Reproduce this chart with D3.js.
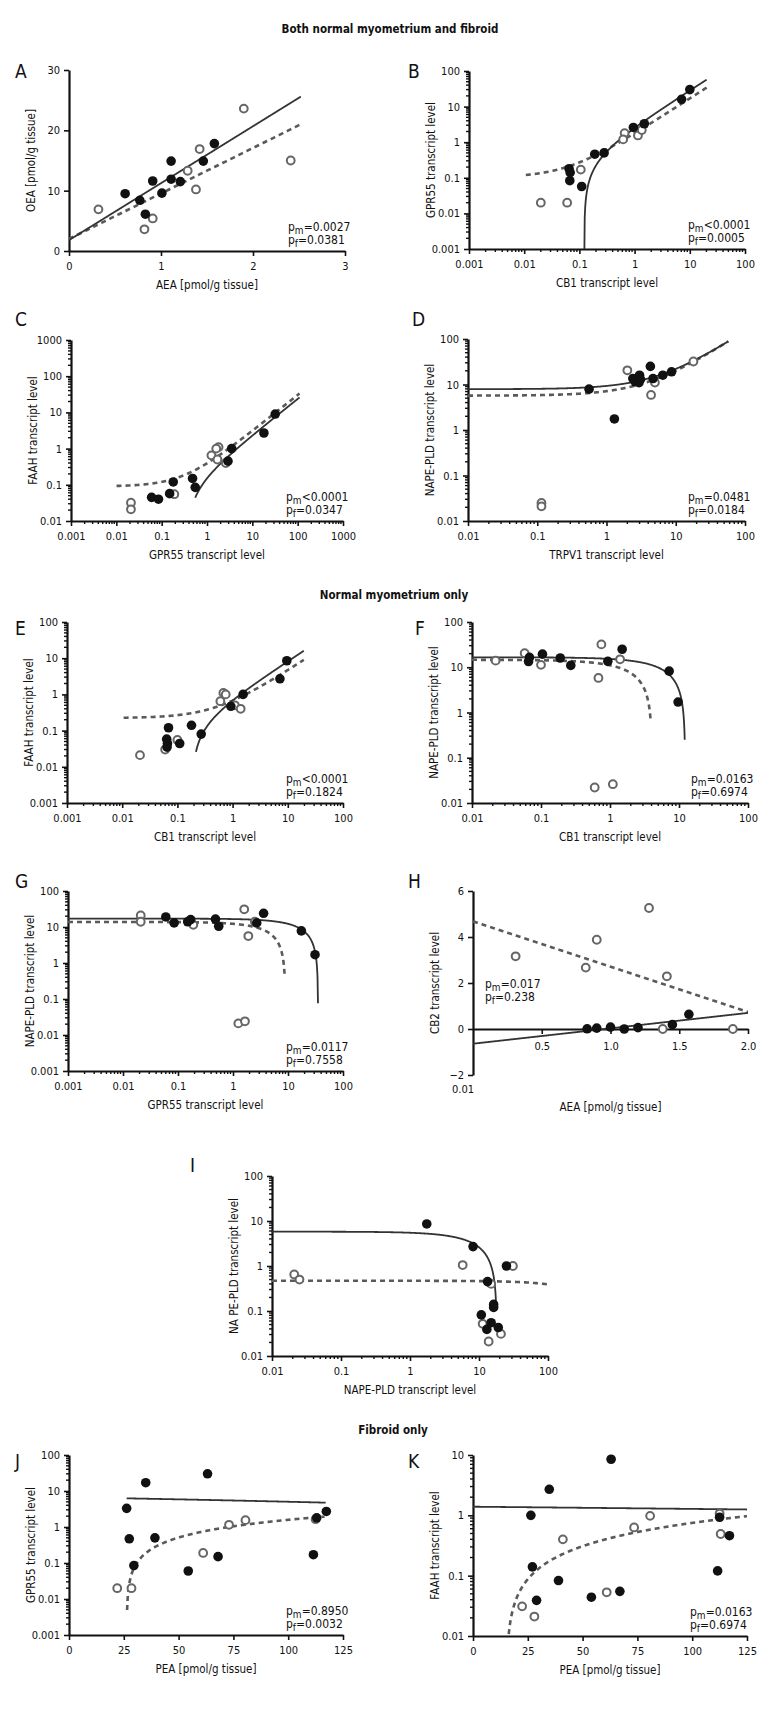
<!DOCTYPE html>
<html>
<head>
<meta charset="utf-8">
<script src="https://cdn.jsdelivr.net/npm/d3@7"></script>
<style>
    body { margin: 0; background: #fff; }
    svg text { font-family: "Liberation Sans Narrow", "DejaVu Sans Condensed", "Arial Narrow", sans-serif; fill: #111; }
    .axis path, .axis line { stroke: #111; }
</style>
</head>
<body>
<div id="chart"></div>
<script>
// ---- tick values / labels ----
var decadeValues = [0.001, 0.01, 0.1, 1, 10, 100, 1000];
var decadeLabels = ['0.001', '0.01', '0.1', '1', '10', '100', '1000'];
var aXTicks = [0, 1, 2, 3];
var aYTicks = [0, 10, 20, 30];
var hXTicks = [0.5, 1.0, 1.5, 2.0];
var hXLabels = ['0.5', '1.0', '1.5', '2.0'];
var hYTicks = [-2, 0, 2, 4, 6];
var hYLabels = ['\u22122', '0', '2', '4', '6'];
var peaTicks = [0, 25, 50, 75, 100, 125];

// ---- points [x, y]: filled = myometrium, open = fibroid ----
var aFilled = [[0.61, 9.5], [0.77, 8.4], [0.83, 6.1], [0.91, 11.6], [1.01, 9.6], [1.11, 14.9], [1.11, 11.9], [1.21, 11.5], [1.46, 14.9], [1.58, 17.8]];
var aOpen = [[0.32, 6.9], [0.82, 3.6], [0.91, 5.4], [1.29, 13.3], [1.38, 10.2], [1.42, 16.9], [1.90, 23.6], [2.41, 15.0]];

var bFilled = [[0.065, 0.18], [0.068, 0.14], [0.067, 0.083], [0.11, 0.057], [0.19, 0.46], [0.28, 0.5], [0.95, 2.6], [1.5, 3.3], [7.1, 16], [10, 30]];
var bOpen = [[0.02, 0.02], [0.06, 0.02], [0.106, 0.17], [0.66, 1.8], [0.62, 1.2], [1.15, 1.55], [1.35, 2.2]];

var cFilled = [[0.06, 0.045], [0.085, 0.04], [0.15, 0.057], [0.18, 0.12], [0.48, 0.15], [0.55, 0.085], [2.9, 0.45], [3.5, 1.0], [18, 2.7], [32, 9]];
var cOpen = [[0.021, 0.032], [0.021, 0.021], [0.19, 0.055], [1.25, 0.65], [1.7, 0.5], [1.8, 1.1], [1.6, 1.0], [2.6, 0.4]];

var dFilled = [[0.56, 7.9], [1.3, 1.75], [2.4, 13.5], [2.6, 11.5], [2.95, 11], [3.0, 16], [3.1, 13], [4.3, 25], [4.7, 13.5], [6.5, 16], [8.7, 19]];
var dOpen = [[0.115, 0.025], [0.115, 0.021], [2.0, 20.5], [2.6, 12], [4.4, 5.9], [5.0, 11], [18, 32]];

var eFilled = [[0.069, 0.12], [0.064, 0.058], [0.066, 0.044], [0.065, 0.035], [0.11, 0.044], [0.18, 0.14], [0.27, 0.08], [0.93, 0.47], [1.55, 1.0], [7.2, 2.7], [9.6, 8.5]];
var eOpen = [[0.021, 0.021], [0.06, 0.03], [0.1, 0.055], [0.68, 1.1], [0.75, 1.0], [0.6, 0.65], [1.1, 0.5], [1.4, 0.4]];

var fFilled = [[0.068, 16.5], [0.066, 13.4], [0.105, 19.5], [0.19, 16], [0.27, 11], [0.93, 13.5], [1.5, 25], [7.2, 8.2], [9.7, 1.7]];
var fOpen = [[0.022, 14], [0.058, 20.5], [0.1, 11.3], [0.75, 32], [0.68, 5.8], [1.4, 15], [0.6, 0.022], [1.1, 0.026]];

var gFilled = [[0.06, 19], [0.085, 13], [0.15, 14], [0.17, 16], [0.48, 16.5], [0.55, 10.5], [2.7, 13], [3.6, 24], [17.5, 7.8], [31, 1.7]];
var gOpen = [[0.021, 21], [0.021, 14], [0.19, 11.5], [1.6, 31], [1.9, 5.6], [2.5, 14], [1.25, 0.021], [1.65, 0.024]];

var hFilled = [[0.83, 0.01], [0.9, 0.04], [1.0, 0.08], [1.1, 0], [1.2, 0.06], [1.45, 0.19], [1.57, 0.64]];
var hOpen = [[0.31, 3.16], [0.82, 2.67], [0.9, 3.88], [1.28, 5.26], [1.41, 2.29], [1.38, 0], [1.89, 0]];

var iFilled = [[1.75, 8.6], [8.2, 2.7], [13.3, 0.45], [16.3, 0.14], [16.3, 0.12], [10.8, 0.082], [13, 0.039], [15, 0.055], [19, 0.043], [25, 1.0]];
var iOpen = [[0.021, 0.65], [0.025, 0.5], [5.8, 1.05], [15, 0.4], [11.3, 0.052], [13.8, 0.021], [20.8, 0.031], [31, 1.0]];

var jFilled = [[26.3, 3.3], [27.5, 0.47], [29.6, 0.085], [35, 17], [39.2, 0.5], [54.4, 0.06], [63.2, 30], [68, 0.15], [111.5, 0.17], [113, 1.8], [117.4, 2.7]];
var jOpen = [[22, 0.02], [28.5, 0.02], [61.2, 0.19], [73, 1.15], [80.5, 1.55], [112.5, 1.65]];

var kFilled = [[26.4, 1.0], [27.1, 0.14], [29, 0.039], [34.8, 2.7], [39, 0.083], [54, 0.044], [63, 8.5], [67, 0.055], [111.6, 0.12], [112.5, 0.93], [117, 0.46]];
var kOpen = [[22.4, 0.031], [28, 0.021], [41, 0.4], [61, 0.053], [73.5, 0.63], [80.8, 0.98], [112.5, 1.07], [113, 0.49]];

// ---- linear regression fits: [intercept, slope, xStart, xEnd] ----
var aFitSolid = [1.8, 9.44, 0, 2.52],        aFitDashed = [2.0, 7.54, 0, 2.52];
var bFitSolid = [-0.348, 2.85, 0.1222, 20.2], bFitDashed = [0.102, 1.688, 0.0107, 20.2];
var cFitSolid = [-0.086, 0.2362, 0.55, 110],  cFitDashed = [0.090, 0.3028, 0.0101, 110];
var dFitSolid = [7.89, 1.41, 0.01, 57.4],     dFitDashed = [5.69, 1.45, 0.01, 57.4];
var eFitSolid = [-0.154, 0.8285, 0.217, 19.5], eFitDashed = [0.222, 0.450, 0.0106, 19.5];
var fFitSolid = [16.61, -1.352, 0.01, 12.1],  fFitDashed = [14.64, -3.6, 0.01, 3.87];
var gFitSolid = [17.1, -0.485, 0.001, 35.1],  gFitDashed = [13.8, -1.537, 0.001, 8.7];
var hFitSolid = [-0.64, 0.67, 0, 2],          hFitDashed = [4.68, -1.97, 0, 2];
var iFitSolid = [5.8, -0.32, 0.01, 17.8],     iFitDashed = [0.47, -0.0008, 0.01, 100];
var jFitSolid = [6.69, -0.0166, 26.3, 117.1], jFitDashed = [-0.564, 0.02147, 26.5, 116.6];
var kFitSolid = [1.39, -0.00112, 0, 125],     kFitDashed = [-0.133, 0.00882, 16.3, 125];

// ---- p values ----
var pmValues = { A: '=0.0027', B: '<0.0001', C: '<0.0001', D: '=0.0481', E: '<0.0001', F: '=0.0163', G: '=0.0117', H: '=0.017', J: '=0.8950', K: '=0.0163' };
var pfValues = { A: '=0.0381', B: '=0.0005', C: '=0.0347', D: '=0.0184', E: '=0.1824', F: '=0.6974', G: '=0.7558', H: '=0.238', J: '=0.0032', K: '=0.6974' };

var sectionTitles = [
    { text: 'Both normal myometrium and fibroid', x: 390, y: 33 },
    { text: 'Normal myometrium only', x: 394, y: 599 },
    { text: 'Fibroid only', x: 393, y: 1434 }
];

var panels = [
    { id: 'A', left: 69, top: 70, right: 345, bottom: 251, letter: [15, 78], xLog: false, yLog: false, xDomain: [0, 3], yDomain: [0, 30],
      xTicks: aXTicks, yTicks: aYTicks, xLabel: 'AEA [pmol/g tissue]', yLabel: 'OEA [pmol/g tissue]', filled: aFilled, open: aOpen, solid: aFitSolid, dashed: aFitDashed },
    { id: 'B', left: 469, top: 71, right: 745, bottom: 249, letter: [408, 78], xLog: true, yLog: true, xDomain: [0.001, 100], yDomain: [0.001, 100],
      xLabel: 'CB1 transcript level', yLabel: 'GPR55 transcript level', filled: bFilled, open: bOpen, solid: bFitSolid, dashed: bFitDashed },
    { id: 'C', left: 71, top: 340, right: 343, bottom: 521, letter: [15, 326], xLog: true, yLog: true, xDomain: [0.001, 1000], yDomain: [0.01, 1000],
      xLabel: 'GPR55 transcript level', yLabel: 'FAAH transcript level', filled: cFilled, open: cOpen, solid: cFitSolid, dashed: cFitDashed },
    { id: 'D', left: 468, top: 339, right: 745, bottom: 521, letter: [412, 326], xLog: true, yLog: true, xDomain: [0.01, 100], yDomain: [0.01, 100],
      xLabel: 'TRPV1 transcript level', yLabel: 'NAPE-PLD transcript level', filled: dFilled, open: dOpen, solid: dFitSolid, dashed: dFitDashed },
    { id: 'E', left: 67, top: 622, right: 343, bottom: 803, letter: [15, 635], xLog: true, yLog: true, xDomain: [0.001, 100], yDomain: [0.001, 100],
      xLabel: 'CB1 transcript level', yLabel: 'FAAH transcript level', filled: eFilled, open: eOpen, solid: eFitSolid, dashed: eFitDashed },
    { id: 'F', left: 472, top: 622, right: 748, bottom: 803, letter: [415, 635], xLog: true, yLog: true, xDomain: [0.01, 100], yDomain: [0.01, 100],
      xLabel: 'CB1 transcript level', yLabel: 'NAPE-PLD transcript level', filled: fFilled, open: fOpen, solid: fFitSolid, dashed: fFitDashed },
    { id: 'G', left: 68, top: 891, right: 343, bottom: 1071, letter: [15, 888], xLog: true, yLog: true, xDomain: [0.001, 100], yDomain: [0.001, 100],
      xLabel: 'GPR55 transcript level', yLabel: 'NAPE-PLD transcript level', filled: gFilled, open: gOpen, solid: gFitSolid, dashed: gFitDashed },
    { id: 'H', left: 473, top: 891, right: 748, bottom: 1075, letter: [408, 888], xLog: false, yLog: false, xDomain: [0, 2], yDomain: [-2, 6],
      xTicks: hXTicks, xTickLabels: hXLabels, yTicks: hYTicks, yTickLabels: hYLabels, xAxisAtZero: true,
      xLabel: 'AEA [pmol/g tissue]', yLabel: 'CB2 transcript level', filled: hFilled, open: hOpen, solid: hFitSolid, dashed: hFitDashed },
    { id: 'I', left: 272, top: 1176, right: 548, bottom: 1356, letter: [190, 1172], xLog: true, yLog: true, xDomain: [0.01, 100], yDomain: [0.01, 100],
      xLabel: 'NAPE-PLD transcript level', yLabel: 'NA PE-PLD transcript level', filled: iFilled, open: iOpen, solid: iFitSolid, dashed: iFitDashed },
    { id: 'J', left: 69, top: 1455, right: 343, bottom: 1635, letter: [15, 1468], xLog: false, yLog: true, xDomain: [0, 125], yDomain: [0.001, 100],
      xTicks: peaTicks, xLabel: 'PEA [pmol/g tissue]', yLabel: 'GPR55 transcript level', filled: jFilled, open: jOpen, solid: jFitSolid, dashed: jFitDashed },
    { id: 'K', left: 473, top: 1455, right: 747, bottom: 1636, letter: [408, 1468], xLog: false, yLog: true, xDomain: [0, 125], yDomain: [0.01, 10],
      xTicks: peaTicks, xLabel: 'PEA [pmol/g tissue]', yLabel: 'FAAH transcript level', filled: kFilled, open: kOpen, solid: kFitSolid, dashed: kFitDashed }
];

var svg = d3.select('#chart')
    .append('svg')
    .attr('width', 780)
    .attr('height', 1716);

svg.selectAll('.section-title')
    .data(sectionTitles)
    .enter()
    .append('text')
    .attr('class', 'section-title')
    .attr('x', function(d) { return d.x; })
    .attr('y', function(d) { return d.y; })
    .attr('text-anchor', 'middle')
    .style('font-size', '11.5px')
    .style('font-weight', 'bold')
    .text(function(d) { return d.text; });

function decadeLabel(v) {
    var i = decadeValues.indexOf(v);
    return i >= 0 ? decadeLabels[i] : '';
}

function minorTicks(domain) {
    var out = [];
    decadeValues.forEach(function(dec) {
        for (var m = 2; m <= 9; m++) {
            var v = dec * m;
            if (v > domain[0] && v < domain[1]) out.push(v);
        }
    });
    return out;
}

// sample the straight fit line across the pixel range so it bends correctly on log axes
function fitPath(fit, x) {
    var a = fit[0], b = fit[1];
    var p0 = x(fit[2]), p1 = x(fit[3]);
    var pts = [];
    for (var px = p0; px < p1; px += 0.5) {
        var xv = x.invert(px);
        pts.push([xv, a + b * xv]);
    }
    pts.push([fit[3], a + b * fit[3]]);
    return pts;
}

panels.forEach(function(p) {
    var w = p.right - p.left,
        h = p.bottom - p.top;

    var g = svg.append('g')
        .attr('transform', 'translate(' + p.left + ',' + p.top + ')');

    var x = (p.xLog ? d3.scaleLog() : d3.scaleLinear()).domain(p.xDomain).range([0, w]);
    var y = (p.yLog ? d3.scaleLog() : d3.scaleLinear()).domain(p.yDomain).range([h, 0]);

    g.append('clipPath')
        .attr('id', 'clip-' + p.id)
        .append('rect')
        .attr('x', 0).attr('y', 0)
        .attr('width', w).attr('height', h);

    // panel letter
    svg.append('text')
        .attr('x', p.letter[0])
        .attr('y', p.letter[1])
        .style('font-size', '19px')
        .text(p.id);

    // axes
    var xTickVals = p.xLog ? decadeValues.filter(function(v) { return v >= p.xDomain[0] && v <= p.xDomain[1]; }) : p.xTicks;
    var yTickVals = p.yLog ? decadeValues.filter(function(v) { return v >= p.yDomain[0] && v <= p.yDomain[1]; }) : p.yTicks;

    var xAxis = d3.axisBottom(x)
        .tickValues(xTickVals)
        .tickSizeInner(5)
        .tickSizeOuter(0)
        .tickPadding(6)
        .tickFormat(function(d, i) {
            if (p.xLog) return decadeLabel(d);
            return p.xTickLabels ? p.xTickLabels[i] : String(d);
        });

    var yAxis = d3.axisLeft(y)
        .tickValues(yTickVals)
        .tickSizeInner(5)
        .tickSizeOuter(0)
        .tickPadding(4)
        .tickFormat(function(d, i) {
            if (p.yLog) return decadeLabel(d);
            return p.yTickLabels ? p.yTickLabels[i] : String(d);
        });

    var xAxisY = p.xAxisAtZero ? y(0) : h;

    var xg = g.append('g')
        .attr('class', 'x-axis axis')
        .attr('transform', 'translate(0,' + xAxisY + ')')
        .call(xAxis);

    var yg = g.append('g')
        .attr('class', 'y-axis axis')
        .call(yAxis);

    [xg, yg].forEach(function(ax) {
        ax.select('.domain').attr('stroke-width', 2.2);
        ax.selectAll('.tick line').attr('stroke-width', 1.6);
        ax.selectAll('.tick text')
            .style('font-size', '11px')
            .style('font-family', null)
            .attr('fill', '#111');
    });

    if (p.xLog) {
        xg.selectAll('.minor')
            .data(minorTicks(p.xDomain))
            .enter()
            .append('line')
            .attr('class', 'minor')
            .attr('x1', function(d) { return x(d); })
            .attr('x2', function(d) { return x(d); })
            .attr('y1', 0)
            .attr('y2', 3)
            .attr('stroke', '#111')
            .attr('stroke-width', 1.4);
    }
    if (p.yLog) {
        yg.selectAll('.minor')
            .data(minorTicks(p.yDomain))
            .enter()
            .append('line')
            .attr('class', 'minor')
            .attr('y1', function(d) { return y(d); })
            .attr('y2', function(d) { return y(d); })
            .attr('x1', 0)
            .attr('x2', -3)
            .attr('stroke', '#111')
            .attr('stroke-width', 1.4);
    }

    // axis titles
    var xTitle = g.append('text')
        .attr('x', w / 2)
        .attr('y', h + 38)
        .attr('text-anchor', 'middle')
        .style('font-size', '11.5px')
        .text(p.xLabel);

    if (p.id === 'H') {
        xg.selectAll('.tick text').attr('dy', '0.9em');
        xTitle.attr('y', h + 36);
        g.append('text')
            .attr('x', -10)
            .attr('y', h + 18)
            .attr('text-anchor', 'middle')
            .style('font-size', '11px')
            .text('0.01');
    }

    g.append('text')
        .attr('transform', 'translate(' + (-34) + ',' + (h / 2) + ') rotate(-90)')
        .attr('text-anchor', 'middle')
        .style('font-size', '11.5px')
        .text(p.yLabel);

    // regression lines
    var line = d3.line()
        .defined(function(d) { return !p.yLog || d[1] > 0; })
        .x(function(d) { return x(d[0]); })
        .y(function(d) { return y(d[1]); });

    var fits = g.append('g').attr('clip-path', 'url(#clip-' + p.id + ')');

    fits.append('path')
        .datum(fitPath(p.dashed, x))
        .attr('class', 'fit-dashed')
        .attr('d', line)
        .attr('fill', 'none')
        .attr('stroke', '#5a5a5a')
        .attr('stroke-width', 2.6)
        .attr('stroke-dasharray', '5,4');

    fits.append('path')
        .datum(fitPath(p.solid, x))
        .attr('class', 'fit-solid')
        .attr('d', line)
        .attr('fill', 'none')
        .attr('stroke', '#333')
        .attr('stroke-width', 1.8);

    // points
    g.selectAll('.open')
        .data(p.open)
        .enter()
        .append('circle')
        .attr('class', 'open')
        .attr('cx', function(d) { return x(d[0]); })
        .attr('cy', function(d) { return y(d[1]); })
        .attr('r', 3.9)
        .attr('fill', '#fff')
        .attr('stroke', '#666')
        .attr('stroke-width', 2);

    g.selectAll('.filled')
        .data(p.filled)
        .enter()
        .append('circle')
        .attr('class', 'filled')
        .attr('cx', function(d) { return x(d[0]); })
        .attr('cy', function(d) { return y(d[1]); })
        .attr('r', 4.8)
        .attr('fill', '#111');

    // p values
    if (pmValues[p.id]) {
        var ax = p.id === 'H' ? 12 : w - 57,
            ay = p.id === 'H' ? 97 : h - 20;
        [['m', pmValues[p.id], 0], ['f', pfValues[p.id], 13]].forEach(function(row) {
            var t = g.append('text')
                .attr('x', ax)
                .attr('y', ay + row[2])
                .style('font-size', '12px');
            t.append('tspan').text('p');
            t.append('tspan').attr('dy', 3).style('font-size', '10px').text(row[0]);
            t.append('tspan').attr('dy', -3).text(row[1]);
        });
    }
});
</script>
</body>
</html>
